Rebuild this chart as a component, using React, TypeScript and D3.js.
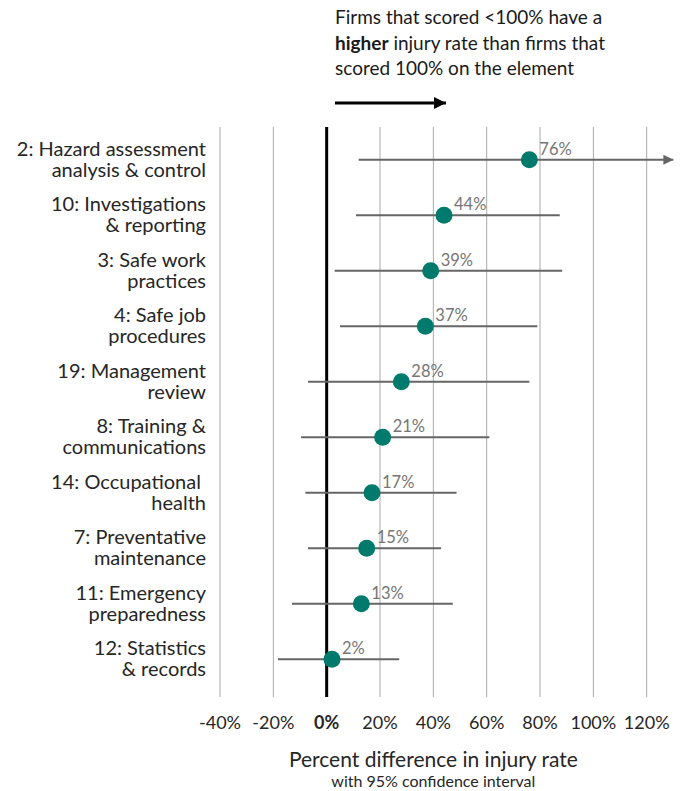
import React, { useRef, useEffect } from 'react';
import * as d3 from 'd3';

// Element labels (two lines each), top to bottom
const elements = [
  ['2: Hazard assessment', 'analysis & control'],
  ['10: Investigations', '& reporting'],
  ['3: Safe work', 'practices'],
  ['4: Safe job', 'procedures'],
  ['19: Management', 'review'],
  ['8: Training &', 'communications'],
  ['14: Occupational ', 'health'],
  ['7: Preventative', 'maintenance'],
  ['11: Emergency', 'preparedness'],
  ['12: Statistics', '& records'],
];

// Percent difference in injury rate (point estimate)
const estimates = [76, 44, 39, 37, 28, 21, 17, 15, 13, 2];
// 95% confidence interval bounds
const lowers = [12, 11, 3, 5, -7, -9.6, -8, -7, -13, -18.3];
const uppers = [130, 87.4, 88.3, 79, 76, 61, 48.7, 42.9, 47.3, 27.2];

const ticks = [-40, -20, 0, 20, 40, 60, 80, 100, 120];

const App = () => {
  const svgRef = useRef<SVGSVGElement>(null);

  useEffect(() => {
    document.body.style.margin = '0';
    const svg = d3.select(svgRef.current);
    svg.selectAll('*').remove();

    const font = 'Lato, "Open Sans", sans-serif';
    const teal = '#007a6d';
    const gridTop = 127;
    const gridBottom = 697;

    const x = d3.scaleLinear().domain([-40, 120]).range([220, 646.7]);
    const xMax = 130; // furthest an interval is drawn before it gets an arrow

    const y = d3.scaleBand<number>()
      .domain(d3.range(elements.length))
      .range([132, 687]);
    const cy = (i: number) => (y(i) as number) + y.bandwidth() / 2;

    // arrow heads
    const defs = svg.append('defs');
    defs.append('marker')
      .attr('id', 'ciArrow')
      .attr('viewBox', '0 0 10 10')
      .attr('refX', 10).attr('refY', 5)
      .attr('markerWidth', 5).attr('markerHeight', 5)
      .attr('markerUnits', 'strokeWidth')
      .attr('orient', 'auto')
      .append('path').attr('d', 'M0,0L10,5L0,10Z').attr('fill', '#666');
    defs.append('marker')
      .attr('id', 'topArrow')
      .attr('viewBox', '0 0 10 10')
      .attr('refX', 10).attr('refY', 5)
      .attr('markerWidth', 4).attr('markerHeight', 4)
      .attr('markerUnits', 'strokeWidth')
      .attr('orient', 'auto')
      .append('path').attr('d', 'M0,0L10,5L0,10Z').attr('fill', '#000');

    // gridlines
    svg.append('g')
      .selectAll('line')
      .data(ticks.filter(t => t !== 0))
      .join('line')
      .attr('x1', d => x(d)).attr('x2', d => x(d))
      .attr('y1', gridTop).attr('y2', gridBottom)
      .attr('stroke', '#ababab')
      .attr('stroke-width', 1);

    // zero line
    svg.append('line')
      .attr('x1', x(0)).attr('x2', x(0))
      .attr('y1', gridTop).attr('y2', gridBottom)
      .attr('stroke', '#000')
      .attr('stroke-width', 3);

    // tick labels
    svg.append('g')
      .selectAll('text')
      .data(ticks)
      .join('text')
      .attr('x', d => x(d))
      .attr('y', 729)
      .attr('text-anchor', 'middle')
      .attr('font-family', font)
      .attr('font-size', 18)
      .attr('font-weight', d => (d === 0 ? 700 : 400))
      .attr('fill', '#262626')
      .text(d => `${d}%`);

    // axis title
    svg.append('text')
      .attr('x', x(40)).attr('y', 767)
      .attr('text-anchor', 'middle')
      .attr('font-family', font).attr('font-size', 21)
      .attr('fill', '#262626')
      .text('Percent difference in injury rate');
    svg.append('text')
      .attr('x', x(40)).attr('y', 787)
      .attr('text-anchor', 'middle')
      .attr('font-family', font).attr('font-size', 16)
      .attr('fill', '#262626')
      .text('with 95% confidence interval');

    // row labels
    const labels = svg.append('g')
      .selectAll('text')
      .data(elements)
      .join('text')
      .attr('text-anchor', 'end')
      .attr('font-family', font)
      .attr('font-size', 20)
      .attr('fill', '#262626');
    labels.append('tspan')
      .attr('x', 206)
      .attr('y', (_, i) => cy(i) - 4)
      .attr('xml:space', 'preserve')
      .text(d => d[0]);
    labels.append('tspan')
      .attr('x', 206)
      .attr('y', (_, i) => cy(i) + 17)
      .text(d => d[1]);

    // confidence intervals
    svg.append('g')
      .selectAll('line')
      .data(estimates)
      .join('line')
      .attr('x1', (_, i) => x(lowers[i]))
      .attr('x2', (_, i) => x(Math.min(uppers[i], xMax)))
      .attr('y1', (_, i) => cy(i))
      .attr('y2', (_, i) => cy(i))
      .attr('stroke', '#666')
      .attr('stroke-width', 2)
      .attr('marker-end', (_, i) => (uppers[i] > 120 ? 'url(#ciArrow)' : null));

    // points
    svg.append('g')
      .selectAll('circle')
      .data(estimates)
      .join('circle')
      .attr('cx', d => x(d))
      .attr('cy', (_, i) => cy(i))
      .attr('r', 8.5)
      .attr('fill', teal);

    // value labels
    svg.append('g')
      .selectAll('text')
      .data(estimates)
      .join('text')
      .attr('x', d => x(d) + 10)
      .attr('y', (_, i) => cy(i) - 5)
      .attr('font-family', font)
      .attr('font-size', 16.5)
      .attr('fill', '#767676')
      .text(d => `${d}%`);

    // top annotation
    const note = svg.append('text')
      .attr('font-family', font)
      .attr('font-size', 19)
      .attr('fill', '#1a1a1a');
    note.append('tspan').attr('x', 335).attr('y', 24)
      .text('Firms that scored <100% have a');
    note.append('tspan').attr('x', 335).attr('y', 50)
      .attr('font-weight', 700).text('higher');
    note.append('tspan').text(' injury rate than firms that');
    note.append('tspan').attr('x', 335).attr('y', 75)
      .text('scored 100% on the element');

    svg.append('line')
      .attr('x1', 335).attr('x2', 446)
      .attr('y1', 103).attr('y2', 103)
      .attr('stroke', '#000')
      .attr('stroke-width', 3)
      .attr('marker-end', 'url(#topArrow)');
  }, []);

  return (
    <svg ref={svgRef} width={691} height={791} style={{ display: 'block' }} />
  );
};

export default App;
